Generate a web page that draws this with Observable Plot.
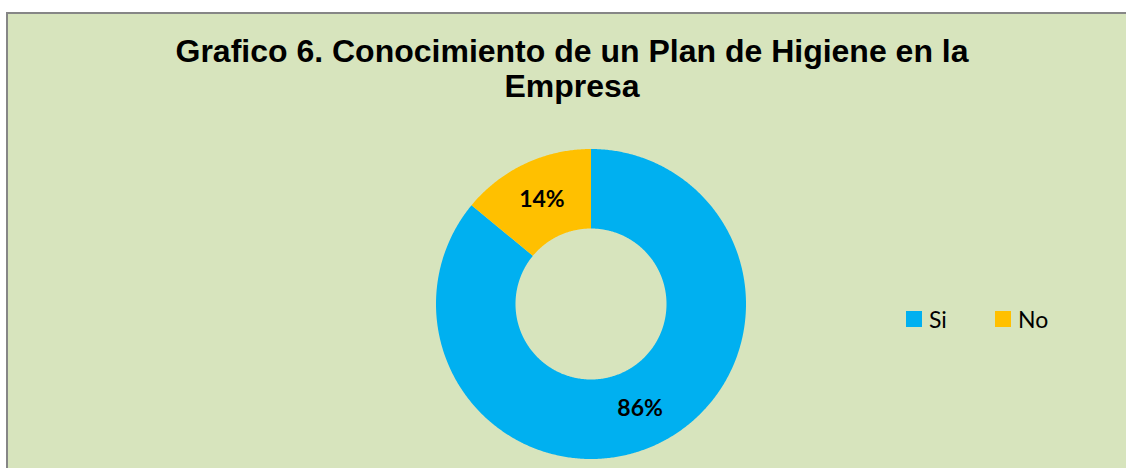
<!DOCTYPE html>
<html>
<head>
<meta charset="utf-8">
<script src="https://cdn.jsdelivr.net/npm/d3@7"></script>
<script src="https://cdn.jsdelivr.net/npm/@observablehq/plot@0.6"></script>
<style>
  html, body { margin: 0; padding: 0; background: #ffffff; overflow: hidden; }
  body { width: 1126px; height: 468px; position: relative; }
  #frame {
    position: absolute; left: 6px; top: 12px; width: 1150px; height: 480px;
    border-left: 2px solid #868686; border-top: 2px solid #868686;
    background: #D7E4BD;
  }
  #title {
    position: absolute; left: 0; top: 34px; width: 1144px; text-align: center;
    font-family: "Liberation Sans", Arial, sans-serif; font-weight: bold;
    font-size: 32px; line-height: 35px; color: #000;
  }
  #chart { position: absolute; left: 0; top: 0; width: 1126px; height: 468px; overflow: hidden; }
  #chart svg { display: block; }
  #legend {
    position: absolute; left: 0; top: 0; width: 1126px; height: 468px; pointer-events: none;
    font-family: Lato, "Open Sans", sans-serif; font-size: 23px; color: #000;
  }
  .lg-item { position: absolute; top: 307px; display: flex; align-items: center; height: 24px; }
  .lg-sw { width: 16px; height: 16px; margin-right: 7px; }
</style>
</head>
<body>
<div id="frame"></div>
<div id="title">Grafico 6. Conocimiento de un Plan de Higiene en la<br>Empresa</div>
<div id="chart"></div>
<div id="legend"></div>
<script>
// ---- data ----
const categories = ["Si", "No"];
const values = [86, 14];
const labels = ["86%", "14%"];
const colors = ["#00B0F0", "#FFC000"];

// ---- geometry of the donut (unit radius, built from data via d3.pie) ----
const innerRatio = 75.5 / 155;
const table = categories.map((c, i) => ({category: c, value: values[i], label: labels[i]}));
const arcs = d3.pie().sort(null).value(d => d.value)(table);

function ringPolygon(a0, a1, r0, r1) {
  const n = Math.max(2, Math.ceil((a1 - a0) / (Math.PI / 360)));
  const pts = [];
  for (let k = 0; k <= n; k++) {
    const a = a0 + (a1 - a0) * k / n;
    pts.push([r1 * Math.sin(a), r1 * Math.cos(a)]);
  }
  for (let k = n; k >= 0; k--) {
    const a = a0 + (a1 - a0) * k / n;
    pts.push([r0 * Math.sin(a), r0 * Math.cos(a)]);
  }
  pts.push(pts[0]);
  return pts;
}

const slices = arcs.map(a => ({
  type: "Feature",
  properties: {category: a.data.category},
  geometry: {type: "Polygon", coordinates: [ringPolygon(a.startAngle, a.endAngle, innerRatio, 1)]}
}));

const labelPts = arcs.map(a => {
  const m = (a.startAngle + a.endAngle) / 2;
  const r = (1 + innerRatio) / 2;
  return {x: r * Math.sin(m), y: r * Math.cos(m), label: a.data.label};
});

const projection = d3.geoIdentity().reflectY(true).scale(155).translate([590.5, 303.5]);

const plot = Plot.plot({
  width: 1126,
  height: 468,
  margin: 0,
  style: {background: "transparent", overflow: "visible"},
  projection,
  color: {domain: categories, range: colors},
  marks: [
    Plot.geo(slices, {fill: d => d.properties.category, stroke: "none"}),
    Plot.text(labelPts, {
      x: "x", y: "y", text: "label",
      fontFamily: "Lato, 'Open Sans', sans-serif", fontWeight: "bold", fontSize: 23,
      fill: "#000"
    })
  ]
});
document.getElementById("chart").appendChild(plot);

// ---- legend ----
const colorScale = plot.scale("color");
const legend = document.getElementById("legend");
const legendX = [906, 995];
categories.forEach((c, i) => {
  const item = document.createElement("div");
  item.className = "lg-item";
  item.style.left = legendX[i] + "px";
  const sw = document.createElement("div");
  sw.className = "lg-sw";
  sw.style.background = colorScale.apply(c);
  const tx = document.createElement("span");
  tx.textContent = c;
  item.appendChild(sw);
  item.appendChild(tx);
  legend.appendChild(item);
});
</script>
</body>
</html>
